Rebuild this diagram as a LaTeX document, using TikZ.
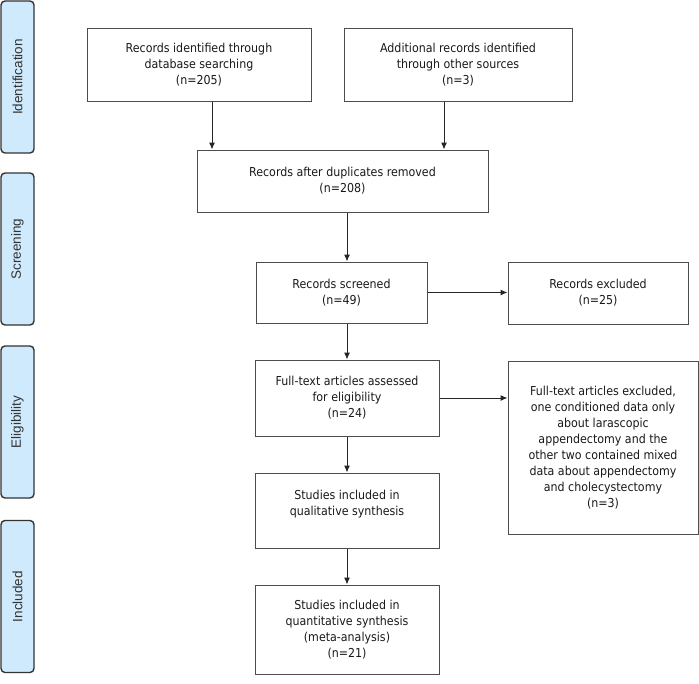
\documentclass[tikz,border=0pt]{standalone}
\usepackage{fontspec}
\setmainfont{Liberation Sans}
\newfontfamily\boxfont{DejaVu Sans Condensed}
\usetikzlibrary{positioning}
\usetikzlibrary{arrows.meta}
\definecolor{stageblue}{RGB}{207,234,253}

\begin{document}
\begin{tikzpicture}[x=1pt, y=-1pt, >={Latex[length=7pt,width=6pt]},
    box/.style={rectangle, draw=black!70, line width=1pt, align=center, inner sep=0pt, text=black!90, font=\boxfont\fontsize{12.3}{16}\selectfont},
    stage/.style={rectangle, rounded corners=4pt, draw=black!80, line width=1.4pt, fill=stageblue, rotate=90, minimum width=152pt, minimum height=33pt, inner sep=0pt, text=black!80, font=\fontsize{13.5}{16}\selectfont},
    link/.style={->, line width=1pt, draw=black!85}]
            \useasboundingbox (0,0) rectangle (699,683);

            \foreach \name/\y/\txt in {ident/77/Identification, screen/249/Screening, elig/422/Eligibility, incl/596.5/Included}
                \node[stage] (\name) at (17.5,\y) {\txt};

            \node[box, minimum width=224pt, minimum height=73pt] (records) at (199,64.5) {Records identified through\\database searching\\(n=205)};
            \node[box, minimum width=228pt, minimum height=73pt] (other) at (458,64.5) {Additional records identified\\through other sources\\(n=3)};
            \node[box, minimum width=291pt, minimum height=62pt] (dupl) at (342.5,181) {Records after duplicates removed\\(n=208)};
            \node[box, minimum width=171pt, minimum height=61pt] (screened) at (341.5,292.5) {Records screened\\(n=49)};
            \node[box, minimum width=180pt, minimum height=62pt] (excl) at (598,293) {Records excluded\\(n=25)};
            \node[box, minimum width=184pt, minimum height=76pt] (fulltext) at (347,398) {Full-text articles assessed\\for eligibility\\(n=24)};
            \node[box, minimum width=190pt, minimum height=173pt] (ftexcl) at (603,447.5) {Full-text articles excluded,\\one conditioned data only\\about larascopic\\appendectomy and the\\other two contained mixed\\data about appendectomy\\and cholecystectomy\\(n=3)};
            \node[box, minimum width=184pt, minimum height=75pt] (quali) [below=36pt of fulltext] {Studies included in\\qualitative synthesis\\\mbox{}};
            \node[box, minimum width=184pt, minimum height=89pt] (quanti) [below=36pt of quali] {Studies included in\\quantitative synthesis\\(meta-analysis)\\(n=21)};

            \coordinate (recout) at ([xshift=13pt]records.south);
            \coordinate (othout) at ([xshift=-14pt]other.south);
            \draw[link] (recout) -- (recout |- dupl.north);
            \draw[link] (othout) -- (othout |- dupl.north);
            \draw[link] (dupl.south -| fulltext) -- (screened.north -| fulltext);
            \draw[link] (screened.south -| fulltext) -- (fulltext.north);
            \draw[link] (screened.east) -- (screened.east -| excl.west);
            \draw[link] (fulltext.east) -- (fulltext.east -| ftexcl.west);
            \draw[link] (fulltext) -- (quali);
            \draw[link] (quali) -- (quanti);
        \end{tikzpicture}
\end{document}
